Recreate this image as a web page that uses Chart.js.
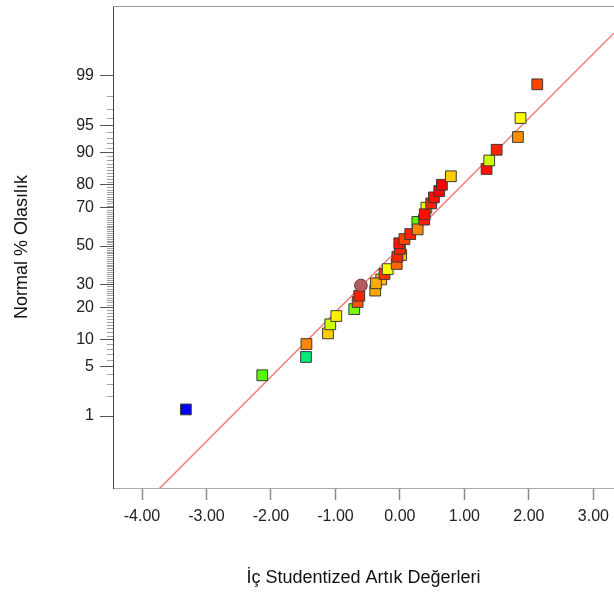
<!DOCTYPE html>
<html>
<head>
<meta charset="utf-8">
<script src="https://cdn.jsdelivr.net/npm/chart.js@4.4.0/dist/chart.umd.min.js"></script>
<style>
  html, body { margin: 0; padding: 0; background: #fff; overflow: hidden; }
  #contenedor { width: 614px; height: 594px; }
</style>
</head>
<body>
<div id="contenedor"><canvas id="grafico"></canvas></div>
<script>
// Datos (residuos y probabilidad normal en %)
const residuos = [-3.32, -2.135, -1.457, -1.45, -1.116, -1.08, -0.987, -0.708, -0.656, -0.63,
  -0.383, -0.605, -0.29, -0.372, -0.24, -0.19, -0.05, 0.02, -0.04, 0.0,
  -0.01, 0.07, 0.16, 0.27, 0.275, 0.41, 0.375, 0.385, 0.485, 0.527,
  0.61, 0.651, 0.79, 1.344, 1.385, 1.50, 1.83, 1.87, 2.13];
const probabilidad = [1.27, 3.85, 6.45, 9.0, 11.6, 14.2, 16.9, 19.4, 22.2, 24.8,
  27.1, 29.5, 32.4, 30.5, 35.1, 37.6, 40.3, 45.1, 44.2, 48.5,
  51.5, 53.8, 56.5, 62.9, 59.0, 70.0, 64.1, 66.8, 72.0, 74.7,
  77.4, 79.9, 83.0, 85.4, 87.9, 90.6, 93.2, 96.0, 98.65];
const colores = ['#0000ff', '#55ff00', '#00ee77', '#ff8800', '#ffcc00', '#ccff00', '#ffee00', '#77ff00', '#ff5500', '#ff2200',
  '#ffaa00', '#b55c5c', '#ffbb00', '#ffaa00', '#ff3300', '#ffff00', '#ff6600', '#ffbb00', '#ff2200', '#ff2200',
  '#ff1100', '#ff4400', '#ff2200', '#55ff00', '#ff8800', '#ddff00', '#ff2200', '#ff1100', '#ff2200', '#ff1100',
  '#ff0000', '#ff0000', '#ffcc00', '#ff1100', '#ccff00', '#ff2200', '#ff8c00', '#ffff00', '#ff4400'];
const indiceCirculo = 11;

const xTicks = [-4, -3, -2, -1, 0, 1, 2, 3];
const yTicks = [1, 5, 10, 20, 30, 50, 70, 80, 90, 95, 99];

// Recta de referencia
const rectaX = [-4.45, 3.32];
const pendiente = 0.884;
const intercepto = -0.02;

const fuente = "Arial, 'Liberation Sans', sans-serif";

// Inversa de la normal (Acklam)
function probit(p) {
  const a = [-3.969683028665376e+01, 2.209460984245205e+02, -2.759285104469687e+02, 1.383577518672690e+02, -3.066479806614716e+01, 2.506628277459239e+00];
  const b = [-5.447609879822406e+01, 1.615858368580409e+02, -1.556989798598866e+02, 6.680131188771972e+01, -1.328068155288572e+01];
  const c = [-7.784894002430293e-03, -3.223964580411365e-01, -2.400758277161838e+00, -2.549732539343734e+00, 4.374664141464968e+00, 2.938163982698783e+00];
  const d = [7.784695709041462e-03, 3.224671290700398e-01, 2.445134137142996e+00, 3.754408661907416e+00];
  const pl = 0.02425;
  let q, r;
  if (p < pl) {
    q = Math.sqrt(-2 * Math.log(p));
    return (((((c[0]*q+c[1])*q+c[2])*q+c[3])*q+c[4])*q+c[5]) / ((((d[0]*q+d[1])*q+d[2])*q+d[3])*q+1);
  }
  if (p > 1 - pl) {
    q = Math.sqrt(-2 * Math.log(1 - p));
    return -(((((c[0]*q+c[1])*q+c[2])*q+c[3])*q+c[4])*q+c[5]) / ((((d[0]*q+d[1])*q+d[2])*q+d[3])*q+1);
  }
  q = p - 0.5; r = q * q;
  return (((((a[0]*r+a[1])*r+a[2])*r+a[3])*r+a[4])*r+a[5])*q / (((((b[0]*r+b[1])*r+b[2])*r+b[3])*r+b[4])*r+1);
}

// Marcas menores del eje Y y borde superior
const marcasMenores = {
  id: 'marcasMenores',
  afterDraw(chart) {
    const { ctx, chartArea, scales } = chart;
    ctx.save();
    ctx.strokeStyle = '#a0a0a0';
    ctx.lineWidth = 1;
    for (let p = 1; p <= 99; p++) {
      if (yTicks.includes(p)) continue;
      const y = Math.round(scales.y.getPixelForValue(probit(p / 100))) + 0.5;
      ctx.beginPath();
      ctx.moveTo(chartArea.left - 6, y);
      ctx.lineTo(chartArea.left, y);
      ctx.stroke();
    }
    ctx.strokeStyle = '#999';
    ctx.beginPath();
    ctx.moveTo(chartArea.left, chartArea.top + 0.5);
    ctx.lineTo(chartArea.right, chartArea.top + 0.5);
    ctx.stroke();
    ctx.restore();
  }
};

const grafico = new Chart(document.getElementById('grafico'), {
  type: 'scatter',
  data: {
    datasets: [{
      label: 'Residuos',
      data: residuos.map((x, i) => ({ x: x, y: probit(probabilidad[i] / 100) })),
      pointStyle: ctx => ctx.dataIndex === indiceCirculo ? 'circle' : 'rect',
      pointRadius: ctx => ctx.dataIndex === indiceCirculo ? 6.3 : 7.6,
      pointHoverRadius: ctx => ctx.dataIndex === indiceCirculo ? 6.3 : 7.6,
      pointBackgroundColor: colores,
      pointBorderColor: ctx => ctx.dataIndex === indiceCirculo ? '#6a3333' : '#3a3a3a',
      pointBorderWidth: 1
    }, {
      type: 'line',
      label: 'Recta',
      data: rectaX.map(x => ({ x: x, y: pendiente * x + intercepto })),
      borderColor: 'rgba(240, 110, 110, 0.9)',
      borderWidth: 1.5,
      pointRadius: 0,
      fill: false
    }]
  },
  options: {
    responsive: true,
    maintainAspectRatio: false,
    animation: false,
    layout: { autoPadding: false, padding: { top: 6, right: 0, left: 0, bottom: 0 } },
    plugins: { legend: { display: false }, tooltip: { enabled: false } },
    scales: {
      x: {
        type: 'linear',
        min: -4.45,
        max: 3.32,
        afterBuildTicks: s => { s.ticks = xTicks.map(v => ({ value: v })); },
        afterFit: s => { s.height = 106; s.paddingLeft = 0; s.paddingRight = 0; },
        grid: { drawOnChartArea: false, tickLength: 12, tickColor: '#8a8a8a', tickWidth: 1.5 },
        border: { color: '#aaa', width: 1 },
        ticks: { color: '#222', font: { size: 16, family: fuente }, padding: 7, maxRotation: 0,
          callback: v => v.toFixed(2) },
        title: { display: true, text: 'İç Studentized Artık Değerleri', color: '#111',
          font: { size: 18, family: fuente }, padding: { top: 0, bottom: 5 } }
      },
      y: {
        type: 'linear',
        min: -3.31,
        max: 3.283,
        afterBuildTicks: s => { s.ticks = yTicks.map(p => ({ value: probit(p / 100) })); },
        afterFit: s => { s.width = 113; s.paddingTop = 0; s.paddingBottom = 0; },
        grid: { drawOnChartArea: false, tickLength: 13, tickColor: '#555', tickWidth: 1 },
        border: { color: '#444', width: 1 },
        ticks: { color: '#222', font: { size: 16, family: fuente }, padding: 6,
          callback: (v, i) => String(yTicks[i]) },
        title: { display: true, text: 'Normal % Olasılık', color: '#111',
          font: { size: 18, family: fuente }, padding: { top: 11, bottom: 0 } }
      }
    }
  },
  plugins: [marcasMenores]
});
</script>
</body>
</html>
